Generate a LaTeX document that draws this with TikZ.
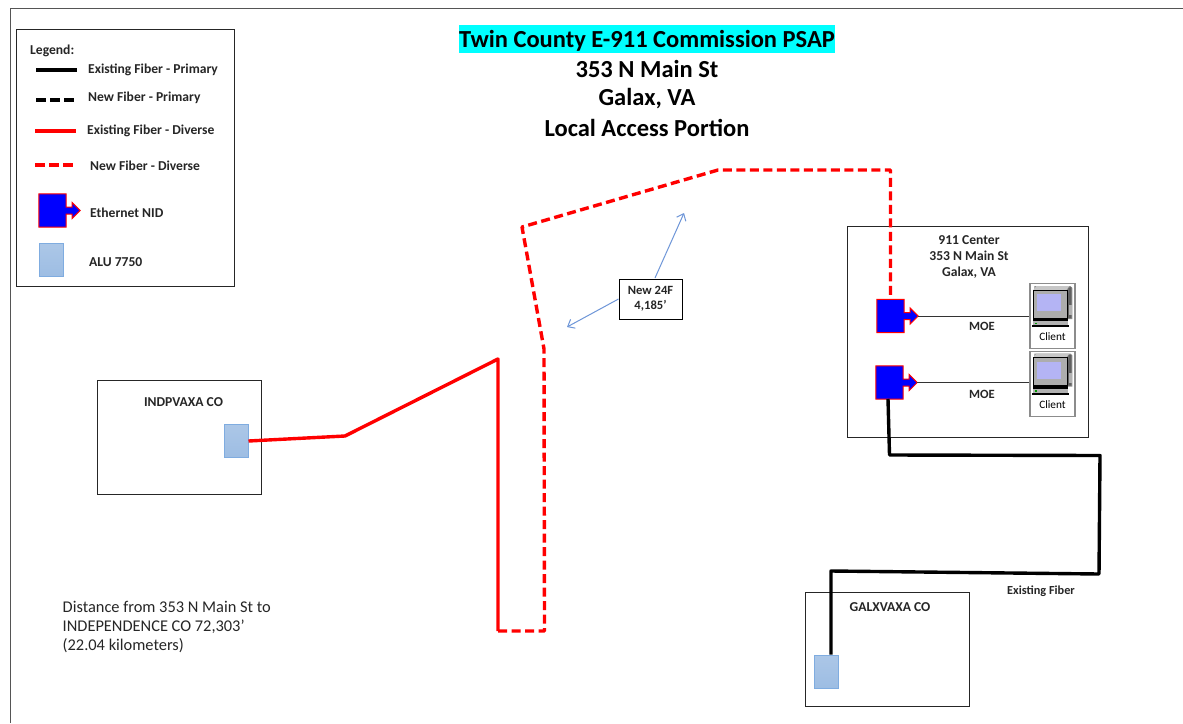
\documentclass[tikz,border=0pt]{standalone}
\usepackage{fontspec}
\setmainfont{Carlito}
\usetikzlibrary{arrows.meta,calc}
\definecolor{fibred}{HTML}{FF0000}
\definecolor{nidblue}{HTML}{0000FF}
\definecolor{arrowblue}{HTML}{6E96D8}
\definecolor{alufill}{HTML}{9DBDE3}
\definecolor{aluedge}{HTML}{7FACE0}
\definecolor{framegray}{HTML}{555555}
\definecolor{cyanhl}{HTML}{00FFFF}
\definecolor{screenblue}{HTML}{B4B4F4}
\tikzset{
  x=1pt,y=-1pt,
  txt/.style={font=\bfseries\fontsize{13.6}{16}\selectfont,text=black!85,inner sep=0pt,align=center},
  lgd/.style={txt,anchor=west},
  titlet/.style={font=\bfseries\fontsize{24.5}{27}\selectfont,inner sep=0pt,text=black},
  boxed/.style={draw=black!85,line width=1pt,fill=white},
  alubox/.style={draw=aluedge,line width=1pt,top color=alufill!85!white,bottom color=alufill,inner sep=0pt,minimum width=24pt,minimum height=33pt},
  fibre/.style={line width=3.4pt,line join=round},
  newfibre/.style={fibre,dash pattern=on 9pt off 4.5pt},
  moe/.style={draw=black!80,line width=1pt},
  callout/.style={draw=arrowblue,line width=1pt,-{Straight Barb[length=6pt,width=10pt]}},
}
% NID: blue square with a small arrow on its right side
\newcommand{\nidshape}[3]{% name, centre x, centre y
  \node[inner sep=0pt,minimum width=27pt,minimum height=33pt] (#1) at (#2,#3) {};
  \draw[draw=fibred,line width=1pt,fill=nidblue,line join=miter]
    (#1.north west) -- (#1.north east) -- ([yshift=3.5pt]#1.east)
    -- ([xshift=6pt,yshift=3.5pt]#1.east) -- ([xshift=6pt,yshift=8pt]#1.east)
    -- ([xshift=14pt]#1.east) coordinate (#1tip) -- ([xshift=6pt,yshift=-8pt]#1.east)
    -- ([xshift=6pt,yshift=-3.5pt]#1.east) -- ([yshift=-3.5pt]#1.east)
    -- (#1.south east) -- (#1.south west) -- cycle;
}
% Client workstation icon
\newcommand{\clientshape}[3]{% name, centre x, top y
  \node[draw=black!45,line width=1.2pt,fill=white,inner sep=0pt,minimum width=45pt,minimum height=65pt,anchor=north] (#1) at (#2,#3) {};
  \begin{scope}[shift={(#1.north west)}]
    \fill[black!45] (5,3) -- (41,3) -- (43,5) -- (43,36) -- (5,36) -- cycle;
    \fill[black!22] (7,3) -- (40,3) -- (37,7) -- (4,7) -- cycle;
    \fill[black!62] (39,5) -- (42,4) -- (42,35) -- (38,35) -- cycle;
    \fill[black!30] (40,22) rectangle (43,32);
    \draw[black,fill=black!32,line width=.7pt] (4,7) rectangle (37.5,35);
    \fill[screenblue] (8,11) rectangle (32,28);
    \fill[black] (3.5,35) rectangle (39,38);
    \fill[black!30] (3.5,38) rectangle (39,42);
    \fill[black] (3,42) rectangle (39.5,44);
    \fill[green!60!black] (6,39.5) rectangle (8,41);
  \end{scope}
  \node[font=\fontsize{11.3}{13}\selectfont,text=black,inner sep=0pt] at ([yshift=12.5pt]#1.south) {Client};
}
\begin{document}
\begin{tikzpicture}
\useasboundingbox (0,0) rectangle (1183,723);
\fill[white] (0,0) rectangle (1183,723);
% outer frame
\coordinate (fbl) at (10,723); \coordinate (ftl) at (10,8.5); \coordinate (ftr) at (1183,8.5);
\draw[framegray,line width=1pt] (fbl) -- (ftl) -- (ftr);

% title
\node[fill=cyanhl,minimum width=376pt,minimum height=28pt,inner sep=0pt] (thl) at (647,39) {};
\node[titlet] (t1) at (647,40.5) {Twin County E-911 Commission PSAP};
\node[titlet] (t2) at (647,69) {353 N Main St};
\node[titlet] (t3) at (647,98.5) {Galax, VA};
\node[titlet] (t4) at (647,127.5) {Local Access Portion};

% legend
\node[boxed,minimum width=218pt,minimum height=257pt,inner sep=0pt,anchor=north west] (lg) at (15.5,29) {};
\node[lgd] (lgt) at (30,50.5) {Legend:};
\coordinate (l1a) at (36,70); \coordinate (l1b) at (77,70);
\coordinate (l2a) at (36,100); \coordinate (l2b) at (77,100);
\coordinate (l3a) at (35,131); \coordinate (l3b) at (76,131);
\coordinate (l4a) at (35,165); \coordinate (l4b) at (76,165);
\draw[fibre,black] (l1a) -- (l1b);
\draw[newfibre,black,dash pattern=on 10pt off 4pt] (l2a) -- (l2b);
\draw[fibre,fibred] (l3a) -- (l3b);
\draw[newfibre,fibred,dash pattern=on 10pt off 4pt] (l4a) -- (l4b);
\node[lgd] (lt1) at (88,70) {Existing Fiber - Primary};
\node[lgd] (lt2) at (88,97.5) {New Fiber - Primary};
\node[lgd] (lt3) at (87,131) {Existing Fiber - Diverse};
\node[lgd] (lt4) at (90,166) {New Fiber - Diverse};
\nidshape{lnid}{52.5}{210.5}
\node[lgd] (lt5) at (90,212.5) {Ethernet NID};
\node[alubox] (lalu) at (51.5,260) {};
\node[lgd] (lt6) at (89,262.5) {ALU 7750};

% 911 center
\node[boxed,minimum width=241pt,minimum height=211pt,inner sep=0pt,anchor=north west] (center) at (847,226) {};
\node[txt] (ct) at (969,257) {911 Center\\353 N Main St\\Galax, VA};
\clientshape{c1}{1052.5}{283}
\clientshape{c2}{1052.5}{350.5}
\nidshape{n1}{890.5}{316}
\nidshape{n2}{889.5}{382.5}
\draw[moe] (n1tip) -- (n1tip -| c1.west);
\draw[moe] (n2tip) -- (n2tip -| c2.west);
\node[txt,font=\bfseries\fontsize{12.6}{15}\selectfont] (m1) at (982,326) {MOE};
\node[txt,font=\bfseries\fontsize{12.6}{15}\selectfont] (m2) at (982,394) {MOE};

% central offices
\node[boxed,minimum width=164pt,minimum height=114pt,inner sep=0pt,anchor=north west] (ind) at (97,380) {};
\node[txt] (indt) at (183.5,402.5) {INDPVAXA CO};
\node[alubox] (a1) at (236,441) {};
\node[boxed,minimum width=164pt,minimum height=114pt,inner sep=0pt,anchor=north west] (gal) at (805,592) {};
\node[txt] (galt) at (890,607.5) {GALXVAXA CO};
\node[alubox] (a2) at (826.5,671.5) {};

% fibres
\coordinate (r1) at (345,436); \coordinate (r2) at (498,359); \coordinate (r3) at (498,631);
\draw[fibre,fibred] (a1.east) -- (r1) -- (r2) -- (r3);
\coordinate (d1) at (544.5,631); \coordinate (d2) at (544,349); \coordinate (d3) at (522,227);
\coordinate (d4) at (718,170); \coordinate (d5) at (890.5,170);
\draw[newfibre,fibred] (r3) -- (d1) -- (d2) -- (d3) -- (d4) -- (d5) -- (n1.north);
\coordinate (b0) at (888,399); \coordinate (b1) at (889.5,455); \coordinate (b2) at (1100,455.5);
\coordinate (b3) at (1099,574); \coordinate (b4) at (831,571);
\draw[fibre,black] (b0) -- (b1) -- (b2) -- (b3) -- (b4) -- (b4 |- a2.north);
\node[txt,font=\bfseries\fontsize{12.3}{14}\selectfont] (ef) at (1041,591) {Existing Fiber};

% callout
\node[draw=black,line width=1pt,fill=white,minimum width=63pt,minimum height=40pt,inner sep=0pt,txt,font=\bfseries\fontsize{12.6}{15}\selectfont] (cb) at (650.5,299) {New 24F\\4,185’};
\coordinate (ca) at (684,213); \coordinate (cc) at (567,327);
\draw[callout] (655,278) -- (ca);
\draw[callout] (cb.west) -- (cc);

% distance note
\node[anchor=west,inner sep=0pt,align=left,font=\fontsize{16.4}{19}\selectfont,text=black!85] (dist) at (62.5,627) {Distance from 353 N Main St to\\INDEPENDENCE CO 72,303’\\(22.04 kilometers)};
\end{tikzpicture}
\end{document}
